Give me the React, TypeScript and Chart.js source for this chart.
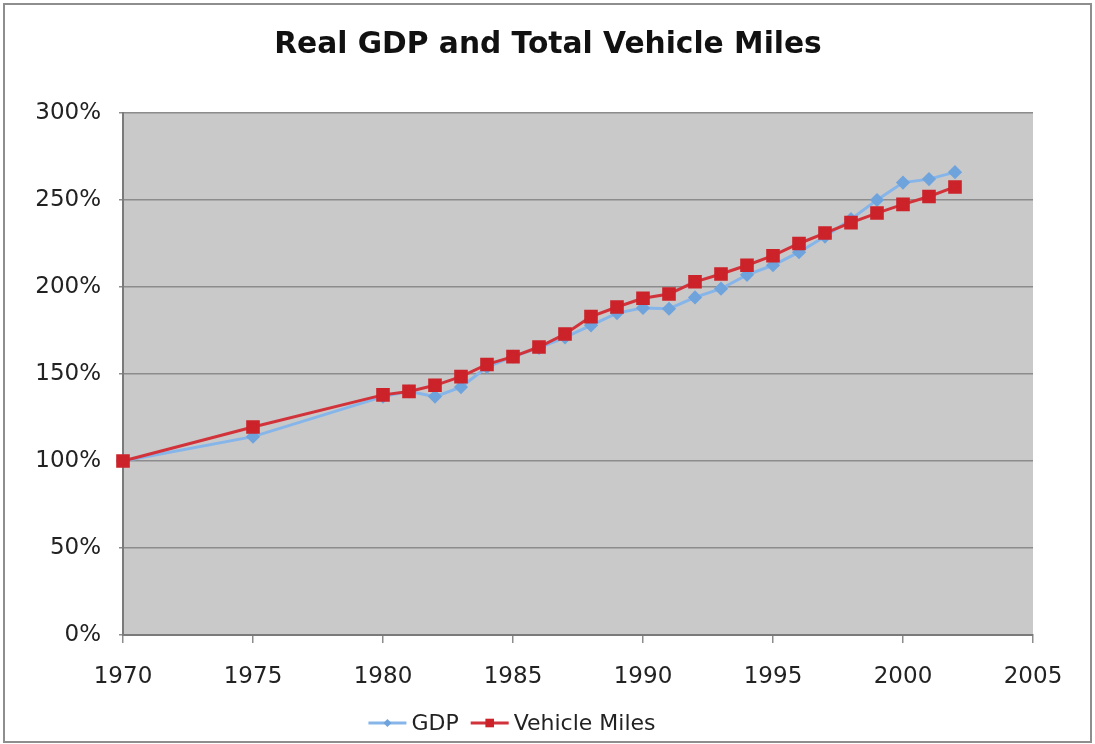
import React, { useEffect, useRef } from "react";
import { Chart, registerables } from "chart.js";

Chart.register(...registerables);

const chartTitle = "Real GDP and Total Vehicle Miles";
const seriesNames = ["GDP", "Vehicle Miles"];
const years = [
  1970, 1975, 1980, 1981, 1982, 1983, 1984, 1985, 1986, 1987, 1988, 1989, 1990,
  1991, 1992, 1993, 1994, 1995, 1996, 1997, 1998, 1999, 2000, 2001, 2002,
];
const gdp = [
  100, 114, 137, 140, 137, 142.5, 154, 160, 165, 171, 178, 185, 188, 187.5, 194,
  199, 207, 212.5, 220, 229, 239, 250, 260, 262, 266,
];
const vehicleMiles = [
  100, 119.5, 138, 140, 143.5, 148.5, 155.5, 160, 165.5, 173, 183, 188.5, 193.5,
  196, 203, 207.5, 212.5, 218, 225, 231, 237, 242.5, 247.5, 252, 257.5,
];
const xMin = 1970;
const xMax = 2005;
const xStep = 5;
const yMin = 0;
const yMax = 300;
const yStep = 50;

const FONT = "'DejaVu Sans', Verdana, sans-serif";

const plotBackground = {
  id: "plotBackground",
  beforeDraw(chart: any) {
    const { ctx, chartArea } = chart;
    ctx.save();
    ctx.fillStyle = "#c9c9c9";
    ctx.fillRect(
      chartArea.left,
      chartArea.top,
      chartArea.right - chartArea.left,
      chartArea.bottom - chartArea.top
    );
    ctx.restore();
  },
};

const topTitle = {
  id: "topTitle",
  afterDraw(chart: any) {
    const ctx = chart.ctx;
    ctx.save();
    ctx.font = `bold 29.7px ${FONT}`;
    ctx.fillStyle = "#111";
    ctx.textAlign = "center";
    ctx.textBaseline = "middle";
    ctx.fillText(chartTitle, 548, 45);
    ctx.restore();
  },
};

const bottomLegend = {
  id: "bottomLegend",
  afterDraw(chart: any) {
    const ctx = chart.ctx;
    ctx.save();
    ctx.font = `22px ${FONT}`;
    ctx.textBaseline = "middle";
    ctx.textAlign = "left";
    const lineW = 38;
    const gapText = 5;
    const gapItems = 12;
    const items = chart.data.datasets.map((ds: any) => ({
      label: ds.label,
      color: ds.borderColor,
      pColor: ds.pointBackgroundColor,
      style: ds.pointStyle,
      r: ds.pointRadius,
      w: ctx.measureText(ds.label).width,
    }));
    const total =
      items.reduce((s: number, it: any) => s + lineW + gapText + it.w, 0) +
      gapItems * (items.length - 1);
    let x = 512 - total / 2;
    const y = 723;
    for (const it of items) {
      ctx.strokeStyle = it.color;
      ctx.lineWidth = 3;
      ctx.beginPath();
      ctx.moveTo(x, y);
      ctx.lineTo(x + lineW, y);
      ctx.stroke();
      const cx = x + lineW / 2;
      ctx.fillStyle = it.pColor;
      ctx.beginPath();
      if (it.style === "rectRot") {
        const s = it.r - 1;
        ctx.moveTo(cx, y - s);
        ctx.lineTo(cx + s, y);
        ctx.lineTo(cx, y + s);
        ctx.lineTo(cx - s, y);
        ctx.closePath();
      } else {
        const s = it.r * Math.SQRT1_2 - 1;
        ctx.rect(cx - s, y - s, 2 * s, 2 * s);
      }
      ctx.fill();
      x += lineW + gapText;
      ctx.fillStyle = "#222";
      ctx.fillText(it.label, x, y + 1);
      x += it.w + gapItems;
    }
    ctx.restore();
  },
};

export default function App() {
  const canvasRef = useRef<HTMLCanvasElement | null>(null);

  useEffect(() => {
    if (!canvasRef.current) return;
    const chart = new Chart(canvasRef.current, {
      type: "line",
      data: {
        datasets: [
          {
            label: seriesNames[0],
            data: years.map((yr, i) => ({ x: yr, y: gdp[i] })),
            borderColor: "#86b5ea",
            backgroundColor: "#86b5ea",
            pointBackgroundColor: "#6fa3dc",
            pointBorderColor: "#6fa3dc",
            pointStyle: "rectRot",
            pointRadius: 5,
            borderWidth: 3,
            tension: 0,
            clip: false,
            order: 1,
          },
          {
            label: seriesNames[1],
            data: years.map((yr, i) => ({ x: yr, y: vehicleMiles[i] })),
            borderColor: "#d2333a",
            backgroundColor: "#d2333a",
            pointBackgroundColor: "#cc2229",
            pointBorderColor: "#cc2229",
            pointStyle: "rect",
            pointRadius: 7.5,
            borderWidth: 3,
            tension: 0,
            clip: false,
            order: 0,
          },
        ],
      },
      options: {
        responsive: false,
        animation: false,
        devicePixelRatio: 1,
        layout: { padding: { left: 0, right: 62, top: 113, bottom: 49 } },
        plugins: {
          legend: { display: false },
          tooltip: { enabled: false },
          title: { display: false },
        },
        scales: {
          x: {
            type: "linear",
            min: xMin,
            max: xMax,
            afterFit: (scale: any) => {
              scale.height = 60;
            },
            ticks: {
              stepSize: xStep,
              color: "#222",
              padding: 20,
              font: { family: FONT, size: 23 },
              callback: (v: any) => String(v),
              maxRotation: 0,
            },
            grid: {
              drawOnChartArea: false,
              drawTicks: true,
              tickLength: 8,
              color: "#8c8c8c",
              lineWidth: 1.5,
            },
            border: { display: true, color: "#7a7a7a", width: 2 },
          },
          y: {
            type: "linear",
            min: yMin,
            max: yMax,
            afterFit: (scale: any) => {
              scale.width = 123;
            },
            ticks: {
              stepSize: yStep,
              color: "#222",
              padding: 18,
              font: { family: FONT, size: 23 },
              callback: (v: any) => `${v}%`,
            },
            grid: {
              color: "#8c8c8c",
              lineWidth: 1.5,
              tickLength: 4,
            },
            border: { display: true, color: "#7a7a7a", width: 2 },
          },
        },
      },
      plugins: [plotBackground, topTitle, bottomLegend],
    } as any);
    return () => chart.destroy();
  }, []);

  return (
    <div
      style={{
        position: "absolute",
        left: 0,
        top: 0,
        width: 1095,
        height: 744,
        background: "#fff",
      }}
    >
      <canvas ref={canvasRef} width={1095} height={744} style={{ display: "block" }} />
      <div
        style={{
          position: "absolute",
          left: 3,
          top: 3,
          width: 1089,
          height: 740,
          boxSizing: "border-box",
          border: "2px solid #8e8e8e",
          pointerEvents: "none",
        }}
      />
    </div>
  );
}
